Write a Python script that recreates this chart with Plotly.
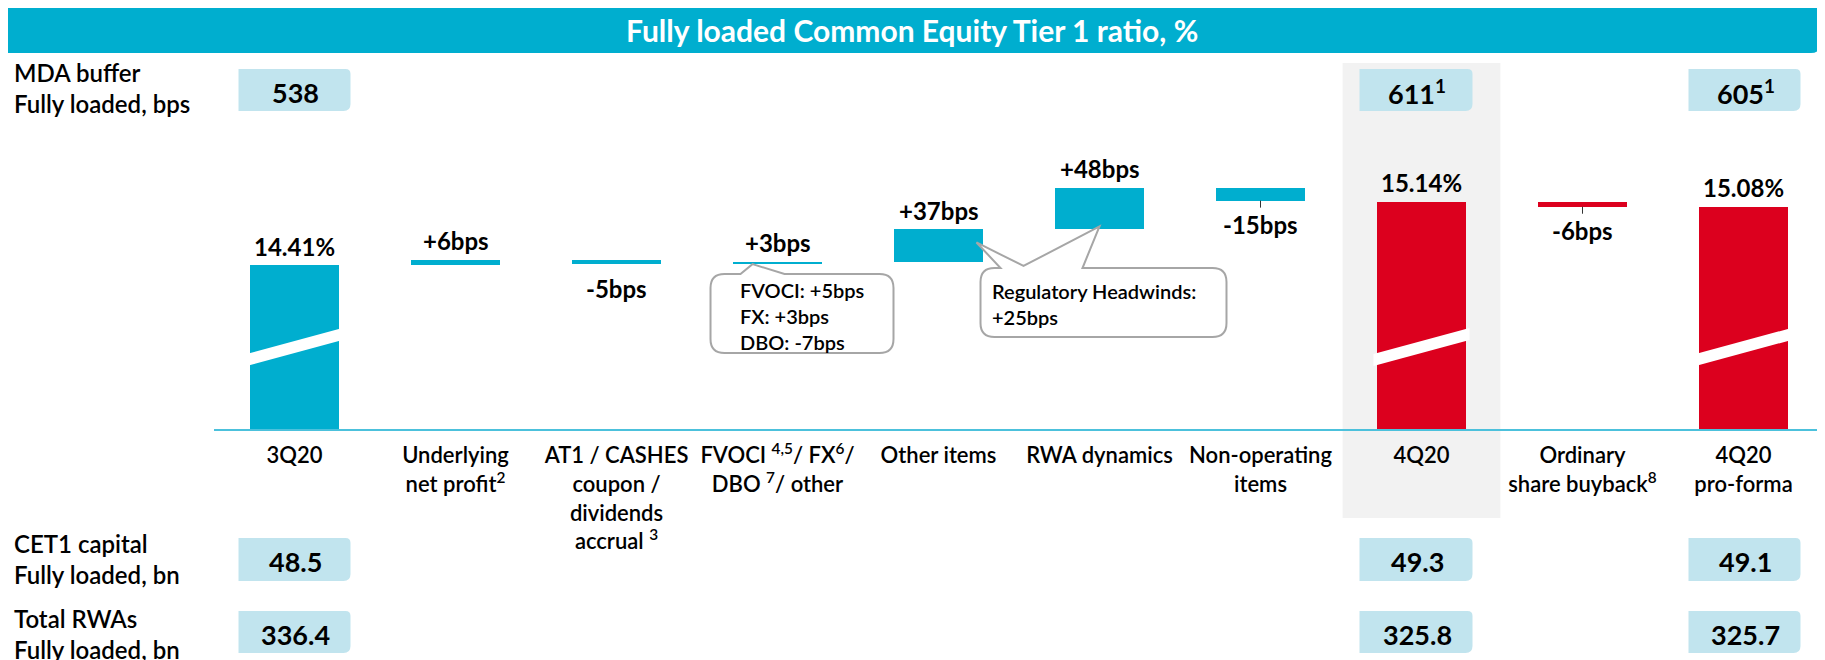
import plotly.graph_objects as go

# ---------------- data ----------------
categories = [
    "3Q20",
    "Underlying<br>net profit<sup>2</sup>",
    "AT1 / CASHES<br>coupon /<br>dividends<br>accrual <sup>3</sup>",
    "FVOCI <sup>4,5</sup>/ FX<sup>6</sup>/<br>DBO <sup>7</sup>/ other",
    "Other items",
    "RWA dynamics",
    "Non-operating<br>items",
    "4Q20",
    "Ordinary<br>share buyback<sup>8</sup>",
    "4Q20<br>pro-forma",
]
measures = ["total", "relative", "relative", "relative", "relative",
            "relative", "relative", "total", "relative", "total"]
# totals in %, relative steps in bps
step_values = [14.41, 6, -5, 3, 37, 48, -15, 15.14, -6, 15.08]

fvoci_breakdown = ["FVOCI: +5bps", "FX: +3bps", "DBO: -7bps"]
headwinds_note = ["Regulatory Headwinds:", "+25bps"]

table_columns = [0, 7, 9]              # 3Q20, 4Q20, 4Q20 pro-forma
mda_buffer_bps = [538, 611, 605]
mda_footnote = ["", "1", "1"]
cet1_capital_bn = [48.5, 49.3, 49.1]
total_rwas_bn = [336.4, 325.8, 325.7]

# ---------------- style / layout ----------------
FONT = "Lato"
TEAL = "#00AECF"
RED = "#DC001E"
LIGHT = "#C1E4EE"
BAND = "#F2F2F2"
CALLOUT = "#A6A6A6"
bar_colors = [TEAL] * 7 + [RED] * 3

OFF = 8                      # page offset of the plot div (body margin)
W, H = 1825, 660
PL, PT, PR, PB = 214, 130, 1824, 429     # plot area in page pixels
ML, MT = PL - OFF, PT - OFF
MR, MB = W - (PR - OFF), H - (PB - OFF)
PW, PH = PR - PL, PB - PT
XR = [-0.5, 9.5]
YR = [12.525, 15.962]


def px(xv):
    return PL + (xv - XR[0]) / (XR[1] - XR[0]) * PW


def py(yv):
    return PT + (YR[1] - yv) / (YR[1] - YR[0]) * PH


def fx(p):
    return (p - PL) / PW


def fy(p):
    return (PB - p) / PH


def P(x, y):
    return f"{fx(x):.5f},{fy(y):.5f}"


def rrect(x0, y0, x1, y1, tl=0, tr=0, br=0, bl=0, top_pts=None):
    s = f"M{P(x0 + tl, y0)} "
    for (a, b) in (top_pts or []):
        s += f"L{P(a, b)} "
    s += f"L{P(x1 - tr, y0)} Q{P(x1, y0)} {P(x1, y0 + tr)} "
    s += f"L{P(x1, y1 - br)} Q{P(x1, y1)} {P(x1 - br, y1)} "
    s += f"L{P(x0 + bl, y1)} Q{P(x0, y1)} {P(x0, y1 - bl)} "
    s += f"L{P(x0, y0 + tl)} Q{P(x0, y0)} {P(x0 + tl, y0)} Z"
    return s


def ann(x, y, text, size, color="#000", weight=600, xanchor="center",
        yanchor="middle", align="center"):
    return dict(xref="paper", yref="paper", x=fx(x), y=fy(y), text=text,
                showarrow=False, xanchor=xanchor, yanchor=yanchor, align=align,
                font=dict(family=FONT, size=size, color=color, weight=weight))


# ---------------- waterfall geometry from data ----------------
xs = list(range(len(categories)))
bases, heights, labels = [], [], []
level = None
for m, v in zip(measures, step_values):
    if m == "total":
        bases.append(0)
        heights.append(v)
        level = v
        labels.append(f"{v:.2f}%")
    else:
        d = v / 100.0
        bases.append(level)
        heights.append(d)
        level += d
        labels.append(f"{v:+d}bps")

fig = go.Figure()
fig.add_trace(go.Bar(
    x=xs, y=heights, base=bases, width=0.553,
    marker=dict(color=bar_colors, line=dict(width=0)),
    hoverinfo="skip", showlegend=False,
))

shapes = []
annotations = []

# highlighted 4Q20 column band
shapes.append(dict(type="rect", xref="x", yref="paper", x0=7 - 0.49, x1=7 + 0.49,
                   y0=fy(518), y1=fy(63), fillcolor=BAND, line=dict(width=0),
                   layer="below"))

# bar value labels
for i, (b, h, lab) in enumerate(zip(bases, heights, labels)):
    top = b + h if h >= 0 else b
    bot = b if h >= 0 else b + h
    if measures[i] == "total" or h >= 0:
        annotations.append(dict(x=i, y=top, xref="x", yref="y", text=lab,
                                showarrow=False, yanchor="middle", yshift=19,
                                font=dict(family=FONT, size=24, color="#000", weight=700)))
    else:
        annotations.append(dict(x=i, y=bot, xref="x", yref="y", text=lab,
                                showarrow=False, yanchor="middle", yshift=-24,
                                font=dict(family=FONT, size=24, color="#000", weight=700)))
        if i in (6, 8):
            shapes.append(dict(type="line", xref="paper", yref="paper",
                               x0=fx(px(i)), x1=fx(px(i)), y0=fy(py(bot)), y1=fy(py(bot) + 7),
                               line=dict(color="#333", width=1), layer="above"))

# axis-break strips on total bars
for i, m in enumerate(measures):
    if m == "total":
        c = px(i)
        path = (f"M{P(c - 48, 354)} L{P(c + 48, 328)} L{P(c + 48, 340)} "
                f"L{P(c - 48, 366)} Z")
        shapes.append(dict(type="path", xref="paper", yref="paper", path=path,
                           fillcolor="white", line=dict(width=0), layer="above"))

# callout: FVOCI / FX / DBO
c3 = px(3)
bot3 = py(min(bases[3], bases[3] + heights[3]))
shapes.append(dict(type="path", xref="paper", yref="paper", layer="above",
                   path=rrect(c3 - 67, 274, c3 + 116, 353, 14, 14, 14, 14,
                              top_pts=[(c3 - 37, 274), (c3 - 25, bot3), (c3 + 7, 274)]),
                   fillcolor="white", line=dict(color=CALLOUT, width=2)))
annotations.append(ann(c3 - 40, 316, "<br>".join(fvoci_breakdown), 20,
                       weight=600, xanchor="left", align="left"))

# callout: regulatory headwinds (points to Other items and RWA dynamics)
c4, c5 = px(4), px(5)
top4, bot4 = py(bases[4] + heights[4]), py(bases[4])
bot5 = py(bases[5])
shapes.append(dict(type="path", xref="paper", yref="paper", layer="above",
                   path=rrect(c4 + 42, 268, c5 + 127, 337, 14, 14, 14, 14,
                              top_pts=[(c4 + 62, 268), (c4 + 38, (top4 + bot4) / 2 - 3),
                                       (c4 + 85, 266), (c5, bot5 - 3), (c5 - 17, 268)]),
                   fillcolor="white", line=dict(color=CALLOUT, width=2)))
annotations.append(ann(c4 + 51, 304, "<br>".join(headwinds_note), 20,
                       weight=600, xanchor="left", align="left"))

# title bar
shapes.append(dict(type="path", xref="paper", yref="paper", layer="above",
                   path=rrect(4, 6, 1820, 53, 0, 0, 9, 0),
                   fillcolor=TEAL, line=dict(width=0)))
annotations.append(ann(912, 30, "Fully loaded Common Equity Tier 1 ratio, %", 30,
                       color="white", weight=700))
annotations.append(ann(1810, -3, "Group balance sheet \u2013 CET1", 22, color=TEAL,
                       weight=700, xanchor="right"))

# side tables
row_specs = [
    ("MDA buffer<br>Fully loaded, bps", 88, 69, 111,
     [f"{v}" + (f"<sup>{n}</sup>" if n else "") for v, n in zip(mda_buffer_bps, mda_footnote)]),
    ("CET1 capital<br>Fully loaded, bn", 559, 538, 581, [f"{v:.1f}" for v in cet1_capital_bn]),
    ("Total RWAs<br>Fully loaded, bn", 634, 611, 653, [f"{v:.1f}" for v in total_rwas_bn]),
]
box_offsets = {0: (-56, 56), 7: (-62, 51), 9: (-55, 57)}
for label, ly, y0, y1, texts in row_specs:
    annotations.append(ann(12, ly, label, 24, weight=600, xanchor="left", align="left"))
    for col, t in zip(table_columns, texts):
        a, b = box_offsets[col]
        x0, x1 = px(col) + a, px(col) + b
        shapes.append(dict(type="path", xref="paper", yref="paper", layer="above",
                           path=rrect(x0, y0, x1, y1, 0, 5, 7, 0),
                           fillcolor=LIGHT, line=dict(width=0)))
        annotations.append(ann((x0 + x1) / 2 + 1, (y0 + y1) / 2 + 2, t, 27, weight=700))

fig.update_layout(
    template="none",
    width=W, height=H,
    margin=dict(l=ML, r=MR, t=MT, b=MB, autoexpand=False),
    paper_bgcolor="white", plot_bgcolor="rgba(0,0,0,0)",
    showlegend=False,
    bargap=0,
    xaxis=dict(range=XR, tickvals=xs, ticktext=categories, showgrid=False,
               zeroline=False, showline=True, linecolor="#4CC1DC", linewidth=2,
               ticks="", ticklabelstandoff=6, automargin=False, fixedrange=True,
               tickfont=dict(family=FONT, size=22, color="#000", weight=600)),
    yaxis=dict(range=YR, visible=False, showgrid=False, zeroline=False,
               automargin=False, fixedrange=True),
    shapes=shapes,
    annotations=annotations,
)

fig.write_html("out.html")
